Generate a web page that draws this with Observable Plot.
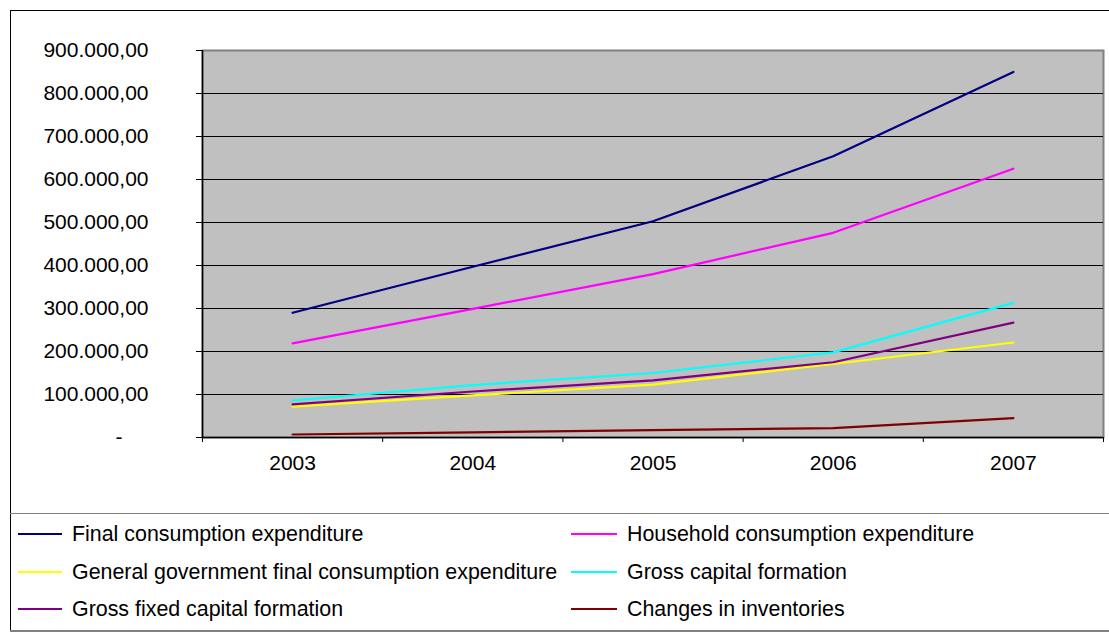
<!DOCTYPE html>
<html>
<head>
<meta charset="utf-8">
<script src="https://cdn.jsdelivr.net/npm/d3@7"></script>
<script src="https://cdn.jsdelivr.net/npm/@observablehq/plot@0.6"></script>
<style>
  html, body { margin: 0; padding: 0; background: #fff; }
  #wrap { position: relative; width: 1109px; height: 633px; overflow: hidden;
          font-family: "Liberation Sans", Arial, sans-serif; }
  #border { position: absolute; left: 10px; top: 10px; width: 1110px; height: 621px;
            border: 1px solid #000; box-sizing: border-box; }
  #chart { position: absolute; left: 0; top: 0; }
  #legend { position: absolute; left: 10px; top: 513px; width: 1110px; height: 119px;
            border-top: 1px solid #808080; border-bottom: 2px solid #808080; box-sizing: border-box; }
  .item { position: absolute; font-size: 21.4px; color: #000; white-space: nowrap; line-height: 24px; }
  .sw { position: absolute; height: 2px; }
</style>
</head>
<body>
<div id="wrap">
  <div id="border"></div>
  <div id="chart"></div>
  <div id="legend"></div>
</div>
<script>
// ---- data ----
const years = [2003, 2004, 2005, 2006, 2007];
const seriesNames = [
  "Final consumption expenditure",
  "Household consumption expenditure",
  "General government final consumption expenditure",
  "Gross capital formation",
  "Gross fixed capital formation",
  "Changes in inventories"
];
const seriesColors = ["#000080", "#FF00FF", "#FFFF00", "#00FFFF", "#800080", "#800000"];
const finalConsumption = [290000, 397000, 503000, 654000, 850000];
const household = [219000, 299000, 380000, 476000, 625000];
const government = [72000, 98000, 123000, 171000, 221000];
const grossCapital = [86000, 122000, 150000, 198000, 313000];
const grossFixed = [77000, 107000, 133000, 175000, 267000];
const inventories = [7000, 12000, 17000, 22000, 45000];
const yTicks = [0, 100000, 200000, 300000, 400000, 500000, 600000, 700000, 800000, 900000];

const seriesValues = [finalConsumption, household, government, grossCapital, grossFixed, inventories];
const rows = [];
seriesNames.forEach((name, i) => {
  years.forEach((yr, j) => rows.push({series: name, year: yr, value: seriesValues[i][j]}));
});

const boundaries = [years[0] - 0.5, ...years.map(y => y + 0.5)];
const loc = d3.formatLocale({decimal: ",", thousands: ".", grouping: [3], currency: ["", ""]});
const fmt = loc.format(",.2f");

const lineMarks = seriesNames.map((name, i) =>
  Plot.line(rows.filter(r => r.series === name), {
    x: "year", y: "value", stroke: seriesColors[i], strokeWidth: 2.2
  })
);

const chart = Plot.plot({
  width: 1109,
  height: 500,
  marginLeft: 202,
  marginRight: 6,
  marginTop: 50,
  marginBottom: 63,
  style: {fontFamily: '"Liberation Sans", Arial, sans-serif', fontSize: "21px", color: "#000", background: "transparent", overflow: "visible"},
  x: {type: "linear", domain: [boundaries[0], boundaries[boundaries.length - 1]], label: null},
  y: {domain: [0, 900000], label: null},
  marks: [
    Plot.frame({fill: "#c0c0c0", stroke: "#808080", strokeWidth: 2}),
    Plot.ruleY(yTicks.filter(t => t > 0 && t < 900000), {stroke: "#000", strokeWidth: 1}),
    ...lineMarks,
    Plot.ruleX([boundaries[0]], {stroke: "#000", strokeWidth: 1.5}),
    Plot.ruleY([0], {stroke: "#000", strokeWidth: 1.5}),
    Plot.axisY({ticks: yTicks.filter(t => t > 0), tickFormat: fmt, tickSize: 6, tickPadding: 48, stroke: "#000"}),
    Plot.axisY({ticks: [0], tickFormat: () => "-", tickSize: 6, tickPadding: 74, stroke: "#000"}),
    Plot.axisX({ticks: boundaries, tickFormat: () => "", tickSize: 5, stroke: "#000"}),
    Plot.axisX({ticks: years, tickFormat: d => String(d), tickSize: 0, tickPadding: 18})
  ]
});
document.getElementById("chart").appendChild(chart);

// ---- legend ----
const legend = document.getElementById("legend");
const cols = [{sw: 8, tx: 62, w: 44}, {sw: 561, tx: 617, w: 46}];
const rowY = [20, 58, 95];
seriesNames.forEach((name, i) => {
  const c = cols[i % 2], r = rowY[Math.floor(i / 2)];
  const sw = document.createElement("div");
  sw.className = "sw";
  sw.style.left = c.sw + "px"; sw.style.width = c.w + "px";
  sw.style.top = (r - 1) + "px"; sw.style.background = seriesColors[i];
  legend.appendChild(sw);
  const t = document.createElement("div");
  t.className = "item";
  t.style.left = c.tx + "px"; t.style.top = (r - 12) + "px";
  t.textContent = name;
  legend.appendChild(t);
});
</script>
</body>
</html>
